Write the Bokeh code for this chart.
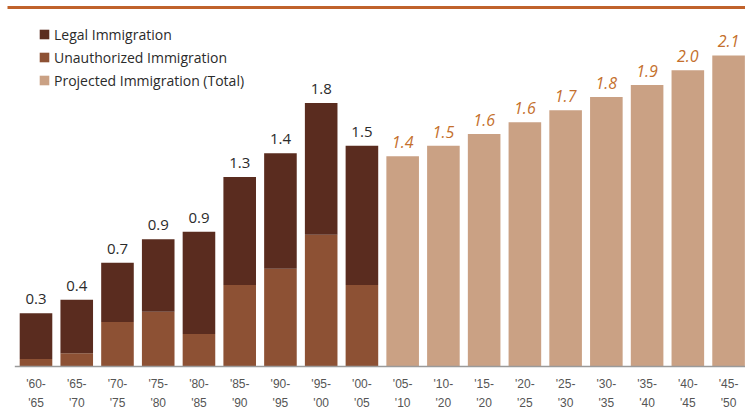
from bokeh.plotting import figure
from bokeh.models import Range1d, ColumnDataSource, Legend, LegendItem, BoxAnnotation
from bokeh.core.properties import value
from bokeh.embed import file_html
from bokeh.resources import INLINE

# ---- data ----
periods = ["'60-\n'65", "'65-\n'70", "'70-\n'75", "'75-\n'80", "'80-\n'85", "'85-\n'90",
           "'90-\n'95", "'95-\n'00", "'00-\n'05", "'05-\n'10", "'10-\n'20", "'15-\n'20",
           "'20-\n'25", "'25-\n'30", "'30-\n'35", "'35-\n'40", "'40-\n'45", "'45-\n'50"]
# historical periods (millions per year)
hist_total = [0.36, 0.45, 0.70, 0.86, 0.91, 1.28, 1.44, 1.78, 1.49]
hist_unauthorized = [0.05, 0.09, 0.30, 0.37, 0.22, 0.55, 0.66, 0.89, 0.55]
hist_labels = ["0.3", "0.4", "0.7", "0.9", "0.9", "1.3", "1.4", "1.8", "1.5"]
# projected periods
proj_total = [1.42, 1.49, 1.57, 1.65, 1.73, 1.82, 1.90, 2.00, 2.10]
proj_labels = ["1.4", "1.5", "1.6", "1.6", "1.7", "1.8", "1.9", "2.0", "2.1"]

legal_color = "#5a2c1f"
unauth_color = "#8d5134"
proj_color = "#caa184"
proj_text_color = "#c46f2c"
rule_color = "#c0622b"

n_hist = len(hist_total)
n = len(periods)
hx = list(range(n_hist))
px_ = list(range(n_hist, n))
hist_legal = [t - u for t, u in zip(hist_total, hist_unauthorized)]

W, H = 745, 409
step = 40.74
ppu = 148.1
base_px = 366
x_start = -35.5 / step
y_top = base_px / ppu
y_bot = -(H - base_px) / ppu

p = figure(width=W, height=H, output_backend="svg", toolbar_location=None,
           x_range=Range1d(x_start, x_start + W / step), y_range=Range1d(y_bot, y_top),
           min_border=0, outline_line_color=None)
p.axis.visible = False
p.grid.visible = False
p.background_fill_color = "white"
p.border_fill_color = "white"

bw = 0.8
src_h = ColumnDataSource(dict(x=hx, unauth=hist_unauthorized, legal=hist_legal,
                              total=hist_total, lab=hist_labels))
src_p = ColumnDataSource(dict(x=px_, total=proj_total, lab=proj_labels))

r_unauth = p.vbar(x="x", bottom=0, top="unauth", width=bw, source=src_h,
                  fill_color=unauth_color, line_color=None)
r_legal = p.vbar(x="x", bottom="unauth", top="total", width=bw, source=src_h,
                 fill_color=legal_color, line_color=None)
r_proj = p.vbar(x="x", bottom=0, top="total", width=bw, source=src_p,
                fill_color=proj_color, line_color=None)

p.text(x="x", y="total", text="lab", source=src_h, text_align="center",
       text_baseline="alphabetic", y_offset=-14, text_font=value("Open Sans"),
       text_font_size="15px", text_color="#2b2b2b")
p.text(x="x", y="total", text="lab", source=src_p, text_align="center",
       text_baseline="alphabetic", y_offset=-14, text_font=value("Open Sans"),
       text_font_style="italic", text_font_size="16px", text_color=proj_text_color)

# two-line tick labels under each bar
top_lines = [s.split("\n")[0] for s in periods]
bot_lines = [s.split("\n")[1] for s in periods]
src_t = ColumnDataSource(dict(x=list(range(n)), a=top_lines, b=bot_lines, y=[0] * n))
p.text(x="x", y="y", text="a", source=src_t, text_align="center", text_baseline="middle",
       y_offset=17, text_font=value("Liberation Sans"), text_font_size="12px",
       text_color="#555555")
p.text(x="x", y="y", text="b", source=src_t, text_align="center", text_baseline="middle",
       y_offset=36, text_font=value("Liberation Sans"), text_font_size="12px",
       text_color="#555555")

# baseline
p.segment(x0=[-0.52], y0=[0], x1=[n], y1=[0], line_color="#9a9a9a", line_width=1.5)

# top rule
p.add_layout(BoxAnnotation(left=x_start + 7 / step, right=x_start + W / step,
                           top=(base_px - 5.5) / ppu, bottom=(base_px - 8.5) / ppu,
                           fill_color=rule_color, fill_alpha=1, line_color=None))

legend = Legend(items=[LegendItem(label="Legal Immigration", renderers=[r_legal]),
                       LegendItem(label="Unauthorized Immigration", renderers=[r_unauth]),
                       LegendItem(label="Projected Immigration (Total)", renderers=[r_proj])],
                location=(38, 319), padding=0, margin=0, spacing=3,
                glyph_width=12, glyph_height=12, label_height=20, label_standoff=4,
                label_text_font="Open Sans", label_text_font_size="14px",
                label_text_color="#2b2b2b", border_line_color=None,
                background_fill_alpha=0)
p.add_layout(legend)

open("out.html", "w").write(file_html(p, INLINE))
